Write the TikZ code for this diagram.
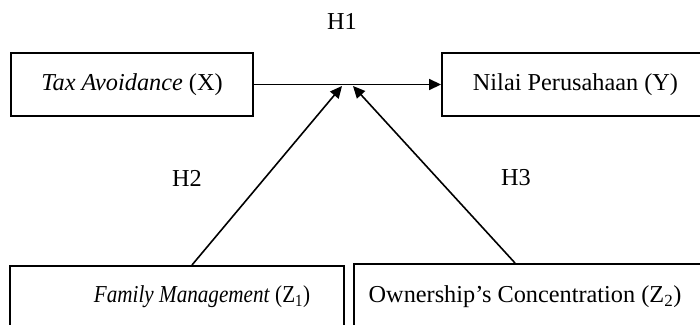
\documentclass[tikz,border=0pt]{standalone}
\usepackage{fontspec}
\setmainfont{Liberation Serif}
\usetikzlibrary{arrows.meta}
\tikzset{
  box/.style={draw=black, line width=1.9pt, inner sep=0pt, font=\fontsize{24.3}{29}\selectfont},
  lbl/.style={inner sep=0pt, font=\fontsize{24.3}{29}\selectfont},
  arr/.style={line width=1.6pt, -{Triangle[length=12pt,width=11pt]}}
}
\begin{document}
\begin{tikzpicture}[x=1pt,y=-1pt]
\clip (0,0) rectangle (700,324);
\fill[white] (0,0) rectangle (700,324);
% top boxes
\node[box, minimum width=242pt, minimum height=63pt] (tax) at (132,84.5) {\textit{Tax Avoidance} (X)};
\node[box, minimum width=267pt, minimum height=63pt] (nilai) at (575.5,84.5) {Nilai Perusahaan (Y)};
% bottom boxes
\node[box, minimum width=334pt, minimum height=90pt, anchor=north west] (fam) at (9,265) {};
\node[box, minimum width=360pt, minimum height=90pt, anchor=north west] (own) at (353,263) {};
\node[lbl] (famtext) at (202,297) {\scalebox{0.87}[1]{\textit{Family Management} (Z\textsubscript{1})}};
\node[lbl] (owntext) at (525,297) {Ownership’s Concentration (Z\textsubscript{2})};
% hypothesis labels
\node[lbl] (h1) at (342,21) {H1};
\node[lbl] (h2) at (187,178) {H2};
\node[lbl] (h3) at (516,178) {H3};
% connectors
\coordinate (t1) at (342,86);
\coordinate (t2) at (353,86);
\coordinate (fb) at (192,265);
\coordinate (ob) at (515,263);
\draw[arr] (tax) -- (nilai);
\draw[arr] (fb) -- (t1);
\draw[arr] (ob) -- (t2);
\end{tikzpicture}
\end{document}
